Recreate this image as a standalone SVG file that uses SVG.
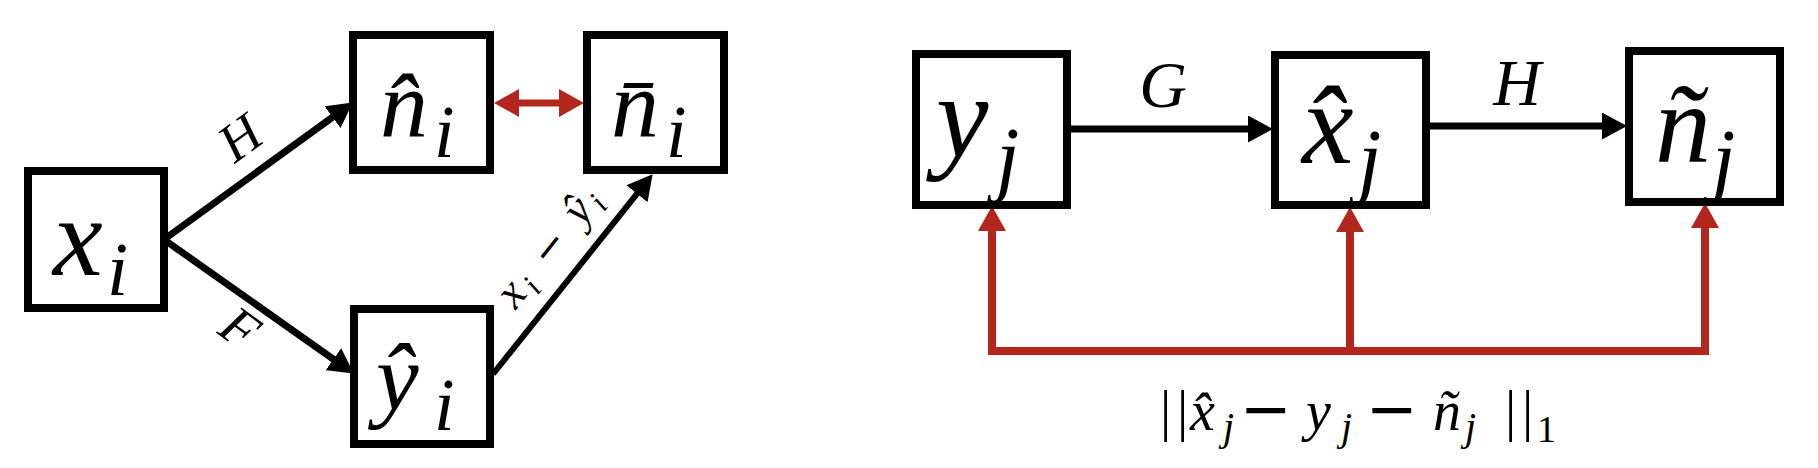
<svg xmlns="http://www.w3.org/2000/svg" width="1818" height="468" viewBox="0 0 1818 468">
<style>
.box{fill:#fff;stroke:#000;stroke-width:8}
.conn{fill:none;stroke:#000;stroke-width:7}
.thin{stroke-width:6}
.red{fill:none;stroke:#b3261e;stroke-width:8}
.redt{fill:none;stroke:#b3261e;stroke-width:7}
.m{font-family:"Liberation Serif",serif;font-style:italic;fill:#000}
.up{font-style:normal}
.op{font-family:"DejaVu Sans",sans-serif;font-style:normal}
</style>
<defs>
<marker id="ah" markerUnits="userSpaceOnUse" markerWidth="25" markerHeight="27" viewBox="0 0 25 27" refX="12" refY="13.5" orient="auto"><path d="M0,0 L25,13.5 L0,27 z" fill="#000"/></marker>
<marker id="rh" markerUnits="userSpaceOnUse" markerWidth="25" markerHeight="28" viewBox="0 0 25 28" refX="13" refY="14" orient="auto-start-reverse"><path d="M0,0 L25,14 L0,28 z" fill="#b3261e"/></marker>
</defs>
<rect width="1818" height="468" fill="#fff"/>
<g id="connectors">
<line class="conn" x1="166" y1="238" x2="342.3" y2="110.1" marker-end="url(#ah)"/>
<line class="conn" x1="166" y1="241" x2="343.2" y2="366.1" marker-end="url(#ah)"/>
<line class="conn thin" x1="493" y1="374" x2="644.5" y2="184.4" marker-end="url(#ah)"/>
<line class="conn" x1="1071" y1="129" x2="1260" y2="129" marker-end="url(#ah)"/>
<line class="conn" x1="1430" y1="126" x2="1614" y2="126" marker-end="url(#ah)"/>
<line class="redt" x1="506" y1="103" x2="572" y2="103" marker-start="url(#rh)" marker-end="url(#rh)"/>
<path class="red" d="M992,218 V351 H1705 V215" marker-start="url(#rh)" marker-end="url(#rh)"/>
<path class="red" d="M1350,351 V219" marker-end="url(#rh)"/>
<text class="m" transform="translate(240,138) rotate(-36)" text-anchor="middle" y="18" font-size="54">H</text>
<text class="m" transform="translate(240,328) rotate(36)" text-anchor="middle" y="18" font-size="54">F</text>
<text class="m" transform="translate(550,248) rotate(-51.5)" text-anchor="middle" y="12" font-size="46" textLength="140" lengthAdjust="spacing">x<tspan font-size="32" dy="8">i</tspan><tspan dy="-8"> </tspan><tspan class="op" font-size="40">−</tspan> ŷ<tspan font-size="32" dy="8">i</tspan></text>
<text class="m" x="1163" y="107" text-anchor="middle" font-size="66">G</text>
<text class="m" x="1517" y="105" text-anchor="middle" font-size="66">H</text>
<text class="m" y="430" font-size="56"><tspan x="1160" class="up">|</tspan><tspan x="1177" class="up">|</tspan><tspan x="1190">x̂</tspan><tspan x="1223" dy="10" font-size="40">j</tspan><tspan x="1240" dy="-10" class="op" font-size="62">−</tspan><tspan x="1306">y</tspan><tspan x="1341" dy="10" font-size="40">j</tspan><tspan x="1366" dy="-10" class="op" font-size="62">−</tspan><tspan x="1433">ñ</tspan><tspan x="1465" dy="10" font-size="40">j</tspan><tspan x="1505" dy="-10" class="up">|</tspan><tspan x="1522" class="up">|</tspan><tspan x="1537" dy="12" class="up" font-size="38">1</tspan></text>
</g>
<g id="node-xi">
<rect class="box" x="28" y="171" width="136" height="137"/>
<text class="m" y="275" font-size="112"><tspan x="53">x</tspan><tspan x="107" y="295" font-size="76">i</tspan></text>
</g>
<g id="node-nhat-i">
<rect class="box" x="353" y="35" width="137" height="135"/>
<text class="m" y="137" font-size="96"><tspan x="380">n̂</tspan><tspan x="434" y="157" font-size="74">i</tspan></text>
</g>
<g id="node-nbar-i">
<rect class="box" x="587" y="35" width="137" height="135"/>
<text class="m" y="137" font-size="96"><tspan x="611">n̄</tspan><tspan x="666" y="157" font-size="74">i</tspan></text>
</g>
<g id="node-yhat-i">
<rect class="box" x="354" y="309" width="136" height="135"/>
<text class="m" y="410" font-size="96"><tspan x="376">ŷ</tspan><tspan x="434" y="430" font-size="74">i</tspan></text>
</g>
<g id="node-yj">
<rect class="box" x="916" y="54" width="151" height="151"/>
<text class="m" y="157" font-size="118"><tspan x="936">y</tspan><tspan x="996" y="186" font-size="84">j</tspan></text>
</g>
<g id="node-xhat-j">
<rect class="box" x="1275" y="55" width="151" height="150"/>
<text class="m" y="163" font-size="116"><tspan x="1302">x̂</tspan><tspan x="1358" y="188" font-size="84">j</tspan></text>
</g>
<g id="node-ntilde-j">
<rect class="box" x="1629" y="51" width="151" height="151"/>
<text class="m" y="162" font-size="112"><tspan x="1655">ñ</tspan><tspan x="1712" y="188" font-size="84">j</tspan></text>
</g>
</svg>
